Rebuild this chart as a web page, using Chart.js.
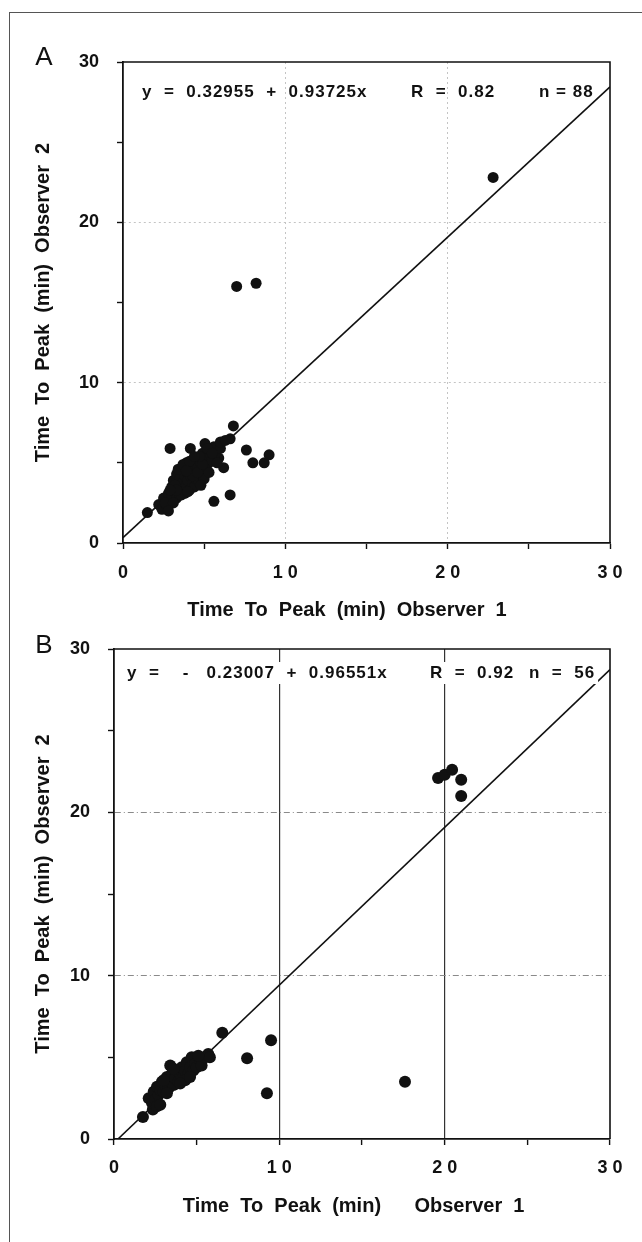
<!DOCTYPE html>
<html>
<head>
<meta charset="utf-8">
<script src="https://cdn.jsdelivr.net/npm/chart.js@4.4.0/dist/chart.umd.min.js"></script>
<style>
    body { margin: 0; background: #fff; }
    #page { position: relative; width: 642px; height: 1242px; overflow: hidden; background: #fff; }
    #frame { position: absolute; left: 9px; top: 12px; width: 700px; height: 1300px;
             border-left: 1.5px solid #555; border-top: 1.5px solid #555; }
    canvas { position: absolute; left: 0; }
    #chartA { top: 0; }
    #chartB { top: 600px; }
</style>
</head>
<body>
<div id="page">
    <div id="frame"></div>
    <canvas id="chartA" width="642" height="630"></canvas>
    <canvas id="chartB" width="642" height="642"></canvas>
</div>
<script>
// Tick labels as printed
const xTickLabels = ['0', '1 0', '2 0', '3 0'];
const yTickLabels = ['0', '10', '20', '30'];

// Panel A: Observer 1 (x) vs Observer 2 (y), n = 88
const obs1A = [1.5, 2.9, 4.15, 5.05, 6.8, 6.6, 7.6, 8.0, 8.7, 9.0, 5.6, 6.6, 6.2, 5.9, 7.0, 8.2, 22.8,
    2.2, 2.4, 2.5, 2.7, 2.8, 2.9, 3.0, 3.0, 3.1, 3.2, 3.3, 3.3, 3.4, 3.5, 3.5, 3.6, 3.6, 3.7, 3.8, 3.8,
    3.9, 3.9, 4.0, 4.0, 4.1, 4.2, 4.2, 4.3, 4.4, 4.4, 4.5, 4.5, 4.6, 4.7, 4.8, 4.8, 4.9, 5.0, 5.0, 5.1,
    5.2, 5.3, 5.3, 5.4, 5.5, 5.6, 5.7, 5.8, 6.0, 3.2, 3.4, 2.6, 3.7, 4.1, 4.3, 4.6, 4.9, 3.1, 2.8, 3.6,
    4.0, 4.7, 5.2, 5.5, 6.0, 6.3, 4.4, 3.9, 3.3, 2.9, 4.8];
const obs2A = [1.9, 5.9, 5.9, 6.2, 7.3, 6.5, 5.8, 5.0, 5.0, 5.5, 2.6, 3.0, 4.7, 5.3, 16.0, 16.2, 22.8,
    2.4, 2.1, 2.8, 2.3, 3.1, 2.6, 3.5, 2.9, 3.9, 3.2, 4.3, 2.8, 3.6, 4.0, 3.0, 4.6, 3.4, 3.8, 4.2, 3.1,
    5.0, 3.6, 4.4, 3.9, 3.3, 4.8, 4.1, 3.7, 4.5, 3.5, 5.2, 4.0, 4.7, 3.8, 5.0, 4.3, 5.6, 4.6, 4.0, 5.3,
    4.9, 5.8, 4.4, 5.5, 5.1, 6.0, 5.6, 5.0, 5.9, 3.6, 4.6, 2.5, 4.9, 5.1, 4.2, 4.4, 4.9, 2.5, 2.0, 3.0,
    3.2, 5.4, 5.9, 5.6, 6.3, 6.4, 5.4, 4.5, 3.3, 3.3, 3.6];
// fitted line end points, y = 0.32955 + 0.93725x
const fitAx = [0, 30];
const fitAy = [0.33, 28.45];

// Panel B: n = 56
const obs1B = [1.75, 2.35, 6.55, 8.05, 9.5, 9.25, 17.6, 19.6, 20.0, 20.45, 21.0, 21.0,
    2.1, 2.3, 2.4, 2.5, 2.6, 2.7, 2.8, 2.9, 3.0, 3.1, 3.2, 3.3, 3.4, 3.4, 3.5, 3.6, 3.7, 3.8, 3.9,
    4.0, 4.1, 4.2, 4.3, 4.4, 4.5, 4.6, 4.7, 4.8, 4.9, 5.0, 5.2, 5.3, 5.5, 5.7, 5.8, 3.0, 2.6, 3.6,
    4.3, 5.1, 3.2, 2.8, 4.0, 4.6];
const obs2B = [1.35, 1.8, 6.5, 4.95, 6.05, 2.8, 3.5, 22.1, 22.3, 22.6, 22.0, 21.0,
    2.5, 2.2, 2.9, 2.4, 3.2, 2.7, 3.0, 3.5, 2.9, 3.3, 3.8, 3.1, 4.5, 3.5, 4.0, 3.3, 3.7, 4.2, 3.5,
    4.0, 4.4, 3.8, 4.2, 4.7, 4.0, 4.4, 5.0, 4.2, 4.6, 4.4, 4.8, 4.5, 5.0, 5.2, 5.0, 3.6, 2.0, 4.3,
    3.6, 5.1, 2.8, 2.1, 3.4, 3.8];
// fitted line end points, y = -0.23007 + 0.96551x
const fitBx = [0.24, 30];
const fitBy = [0, 28.74];

const FONT = '"Liberation Sans", Arial, Helvetica, sans-serif';
const INK = '#111';

function toPoints(xs, ys) {
    return xs.map((x, i) => ({ x: x, y: ys[i] }));
}

const panelText = {
    id: 'panelText',
    afterDatasetsDraw(chart, args, opts) {
        const { ctx, chartArea } = chart;
        ctx.save();
        // equation row
        ctx.font = 'bold 17px ' + FONT;
        ctx.letterSpacing = '1px';
        ctx.textBaseline = 'middle';
        const y = chartArea.top + opts.eqDy;
        opts.parts.forEach(p => {
            if (opts.whiteBox) {
                const w = ctx.measureText(p.text).width;
                ctx.fillStyle = '#fff';
                ctx.fillRect(p.x - 3, y - 11, w + 6, 22);
            }
            ctx.fillStyle = INK;
            ctx.fillText(p.text, p.x, y);
        });
        ctx.letterSpacing = '0px';
        // top and right frame
        ctx.strokeStyle = INK;
        ctx.lineWidth = 1.6;
        ctx.beginPath();
        ctx.moveTo(chartArea.left, chartArea.top);
        ctx.lineTo(chartArea.right, chartArea.top);
        ctx.lineTo(chartArea.right, chartArea.bottom);
        ctx.stroke();
        // panel letter
        ctx.font = '26px ' + FONT;
        ctx.textAlign = 'center';
        ctx.fillStyle = INK;
        ctx.fillText(opts.letter, opts.letterX, opts.letterY);
        ctx.restore();
    }
};

function makeOptions(p) {
    const isMajor = v => v === 10 || v === 20;
    return {
        responsive: false,
        animation: false,
        devicePixelRatio: 1,
        layout: { padding: { left: 0, top: p.padTop, right: p.padRight, bottom: 0 } },
        plugins: {
            legend: { display: false },
            tooltip: { enabled: false },
            panelText: p.text
        },
        scales: {
            x: {
                type: 'linear',
                min: 0,
                max: 30,
                ticks: {
                    stepSize: 5,
                    autoSkip: false,
                    maxRotation: 0,
                    padding: p.xTickPad,
                    color: INK,
                    font: { family: FONT, size: 18, weight: 'bold' },
                    callback: v => (v % 10 === 0 ? xTickLabels[v / 10] : '')
                },
                grid: {
                    color: c => (c.tick && isMajor(c.tick.value) ? p.xGridColor : 'rgba(0,0,0,0)'),
                    lineWidth: p.xGridWidth,
                    tickColor: INK,
                    tickLength: 6,
                    tickWidth: 1.4
                },
                border: { color: INK, width: 1.8, dash: p.xGridDash },
                title: {
                    display: true,
                    text: p.xTitle,
                    color: INK,
                    font: { family: FONT, size: 20, weight: 'bold' },
                    padding: { top: 0, bottom: p.xTitlePad }
                },
                afterFit: s => {
                    s.height = p.xAxisH;
                    s.paddingLeft = 0;
                    s.paddingRight = 0;
                }
            },
            y: {
                type: 'linear',
                min: 0,
                max: 30,
                ticks: {
                    stepSize: 5,
                    autoSkip: false,
                    padding: 18,
                    color: INK,
                    font: { family: FONT, size: 18, weight: 'bold' },
                    callback: v => (v % 10 === 0 ? yTickLabels[v / 10] : '')
                },
                grid: {
                    color: c => (c.tick && isMajor(c.tick.value) ? p.yGridColor : 'rgba(0,0,0,0)'),
                    lineWidth: 1,
                    tickColor: INK,
                    tickLength: 6,
                    tickWidth: 1.4
                },
                border: { color: INK, width: 1.8, dash: p.yGridDash },
                title: {
                    display: true,
                    text: 'Time  To  Peak  (min)  Observer  2',
                    color: INK,
                    font: { family: FONT, size: 20, weight: 'bold' },
                    padding: { top: 31, bottom: 0 }
                },
                afterFit: s => {
                    s.width = p.yAxisW;
                    s.paddingTop = 0;
                    s.paddingBottom = 0;
                }
            }
        }
    };
}

function makeChart(id, xs, ys, fx, fy, radius, p) {
    return new Chart(document.getElementById(id), {
        type: 'scatter',
        data: {
            datasets: [
                {
                    data: toPoints(fx, fy),
                    showLine: true,
                    borderColor: INK,
                    borderWidth: 1.6,
                    pointRadius: 0,
                    order: 2
                },
                {
                    data: toPoints(xs, ys),
                    backgroundColor: INK,
                    borderWidth: 0,
                    pointRadius: radius,
                    order: 1
                }
            ]
        },
        options: makeOptions(p),
        plugins: [panelText]
    });
}

makeChart('chartA', obs1A, obs2A, fitAx, fitAy, 5.5, {
    padTop: 62, padRight: 32, yAxisW: 123, xAxisH: 87, xTickPad: 13, xTitlePad: 8,
    xTitle: 'Time  To  Peak  (min)  Observer  1       ',
    xGridColor: '#c4c4c4', xGridWidth: 1, xGridDash: [2, 3],
    yGridColor: '#c4c4c4', yGridDash: [2, 3],
    text: {
        letter: 'A', letterX: 44, letterY: 58, eqDy: 30, whiteBox: false,
        parts: [
            { text: 'y  =  0.32955  +  0.93725x', x: 142 },
            { text: 'R  =  0.82', x: 411 },
            { text: 'n = 88', x: 539 }
        ]
    }
});

makeChart('chartB', obs1B, obs2B, fitBx, fitBy, 6, {
    padTop: 49, padRight: 32, yAxisW: 114, xAxisH: 103, xTickPad: 12, xTitlePad: 24,
    xTitle: 'Time  To  Peak  (min)      Observer  1   ',
    xGridColor: '#333', xGridWidth: 1.2, xGridDash: [],
    yGridColor: '#8a8a8a', yGridDash: [6, 3, 1, 3],
    text: {
        letter: 'B', letterX: 44, letterY: 46, eqDy: 24, whiteBox: true,
        parts: [
            { text: 'y  =    -   0.23007  +  0.96551x', x: 127 },
            { text: 'R  =  0.92', x: 430 },
            { text: 'n  =  56', x: 529 }
        ]
    }
});
</script>
</body>
</html>
